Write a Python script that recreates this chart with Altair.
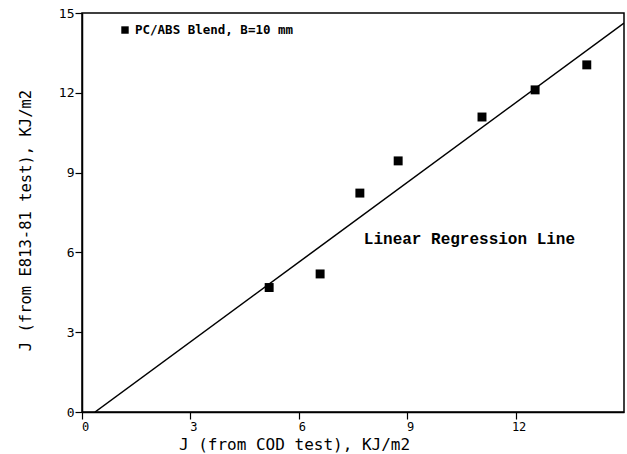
import altair as alt
import pandas as pd

# J-integral values from the two test methods (kJ/m^2)
cod_j = [5.18, 6.59, 7.69, 8.75, 11.07, 12.54, 13.97]
e813_j = [4.68, 5.19, 8.23, 9.44, 11.09, 12.11, 13.05]

# end points of the fitted regression line
fit_x = [0.36, 15.0]
fit_y = [0.0, 14.62]

x_ticks = [0, 3, 6, 9, 12]
y_ticks = [0, 3, 6, 9, 12, 15]

series_label = "PC/ABS Blend, B=10 mm"
fit_label = "Linear Regression Line"

points = pd.DataFrame({"cod": cod_j, "e813": e813_j})
fit = pd.DataFrame({"cod": fit_x, "e813": fit_y})
key = pd.DataFrame({"cod": [1.19], "e813": [14.36], "text": [series_label]})
note = pd.DataFrame({"cod": [7.8], "e813": [6.5], "text": [fit_label]})

mono = "DejaVu Sans Mono"

x_scale = alt.Scale(domain=[0, 15], nice=False, zero=False)
y_scale = alt.Scale(domain=[0, 15], nice=False, zero=False)

x_axis = alt.Axis(
    values=x_ticks, title="J (from COD test), KJ/m2",
    titleX=212, titleY=37, titleAlign="center", titleBaseline="alphabetic",
    titleFont=mono, titleFontSize=16, titleFontWeight="normal",
    labelPadding=2, labelOffset=3, labelFont=mono, labelFontSize=12,
    labelAlign="center", labelBaseline="top",
)
y_axis = alt.Axis(
    values=y_ticks, title="J (from E813-81 test), KJ/m2",
    titleX=-57, titleY=207, titleAlign="center", titleBaseline="middle",
    titleFont=mono, titleFontSize=15.5, titleFontWeight="normal",
    labelPadding=1, labelFont=mono, labelFontSize=13,
)

base_x = alt.X("cod:Q", scale=x_scale, axis=x_axis)
base_y = alt.Y("e813:Q", scale=y_scale, axis=y_axis)

scatter = alt.Chart(points).mark_square(size=80, color="black", opacity=1).encode(
    x=base_x, y=base_y
)

line = alt.Chart(fit).mark_line(color="black", strokeWidth=1.5, clip=True).encode(
    x=alt.X("cod:Q", scale=x_scale), y=alt.Y("e813:Q", scale=y_scale)
)

key_mark = alt.Chart(key).mark_square(size=55, color="black", opacity=1).encode(
    x=alt.X("cod:Q", scale=x_scale), y=alt.Y("e813:Q", scale=y_scale)
)
key_text = alt.Chart(key).mark_text(
    align="left", baseline="middle", dx=10, font=mono, fontSize=12.5,
    fontWeight="bold", color="black"
).encode(x=alt.X("cod:Q", scale=x_scale), y=alt.Y("e813:Q", scale=y_scale), text="text:N")

note_text = alt.Chart(note).mark_text(
    align="left", baseline="middle", font="Liberation Mono", fontSize=16,
    fontWeight="bold", color="black"
).encode(x=alt.X("cod:Q", scale=x_scale), y=alt.Y("e813:Q", scale=y_scale), text="text:N")

chart = (
    alt.layer(line, scatter, key_mark, key_text, note_text)
    .properties(
        width=542, height=399,
        autosize=alt.AutoSizeParams(type="none"),
        padding={"left": 82, "top": 13, "right": 3, "bottom": 42},
        background="white",
    )
    .configure_view(stroke="black", strokeWidth=1.5)
    .configure_axis(
        grid=False, domainColor="black", domainWidth=1.5,
        tickColor="black", tickSize=7, tickWidth=1.2,
        labelColor="black", titleColor="black",
    )
)

chart.save("out.html", embed_options={"renderer": "svg", "actions": False})
